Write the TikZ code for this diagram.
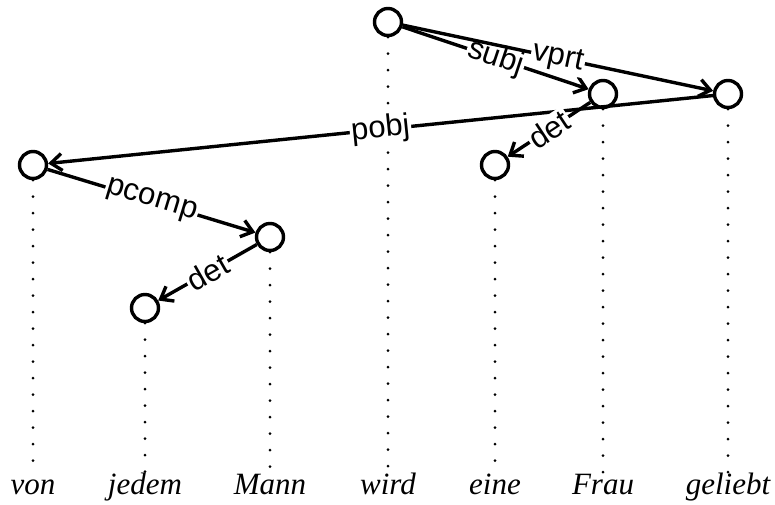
\documentclass[tikz,border=0pt]{standalone}
\usepackage{fontspec}
\setmainfont{Liberation Serif}
\setsansfont{Liberation Sans}
\usetikzlibrary{arrows.meta}
\begin{document}
\begin{tikzpicture}[x=1pt,y=-1pt,line width=3.4pt,
 vrtx/.style={shape=circle,draw=black,fill=white,minimum size=27pt,inner sep=0pt},
 wrd/.style={anchor=base,inner sep=0pt,text height=16pt,font=\fontsize{31}{36}\selectfont\itshape},
 dep/.style={-{Straight Barb[length=11pt,width=17pt,line width=3.4pt]}},
 lbl/.style={midway,sloped,fill=white,inner sep=1.5pt,font=\fontsize{31}{36}\selectfont\sffamily},
 gap/.style={line width=3pt,line cap=round,dash pattern=on 0pt off 16.5pt}]
 \useasboundingbox (0,0) rectangle (775,504);
 \node (word von) at (33,494) [wrd] {von};
 \node (word jedem) at (145,494) [wrd] {jedem};
 \node (word Mann) at (270,494) [wrd] {Mann};
 \node (word wird) at (388,494) [wrd] {wird};
 \node (word eine) at (495,494) [wrd] {eine};
 \node (word Frau) at (603,494) [wrd] {Frau};
 \node (word geliebt) at (728,494) [wrd] {geliebt};
 \node (vrtx von) at (33,165) [vrtx] {};
 \node (vrtx jedem) at (145,308) [vrtx] {};
 \node (vrtx Mann) at (270,237) [vrtx] {};
 \node (vrtx wird) at (388,22) [vrtx] {};
 \node (vrtx eine) at (495,165) [vrtx] {};
 \node (vrtx Frau) at (603,94) [vrtx] {};
 \node (vrtx geliebt) at (728,94) [vrtx] {};
 \draw[gap] (vrtx von) -- (word von);
 \draw[gap] (vrtx jedem) -- (word jedem);
 \draw[gap] (vrtx Mann) -- (word Mann);
 \draw[gap] (vrtx wird) -- (word wird);
 \draw[gap] (vrtx eine) -- (word eine);
 \draw[gap] (vrtx Frau) -- (word Frau);
 \draw[gap] (vrtx geliebt) -- (word geliebt);
 \draw[dep] (vrtx wird) -- (vrtx Frau) node[lbl] {subj};
 \draw[dep] (vrtx wird) -- (vrtx geliebt) node[lbl] {vprt};
 \draw[dep] (vrtx geliebt) -- (vrtx von) node[lbl] {pobj};
 \draw[dep] (vrtx Frau) -- (vrtx eine) node[lbl] {det};
 \draw[dep] (vrtx von) -- (vrtx Mann) node[lbl] {pcomp};
 \draw[dep] (vrtx Mann) -- (vrtx jedem) node[lbl] {det};
\end{tikzpicture}
\end{document}
